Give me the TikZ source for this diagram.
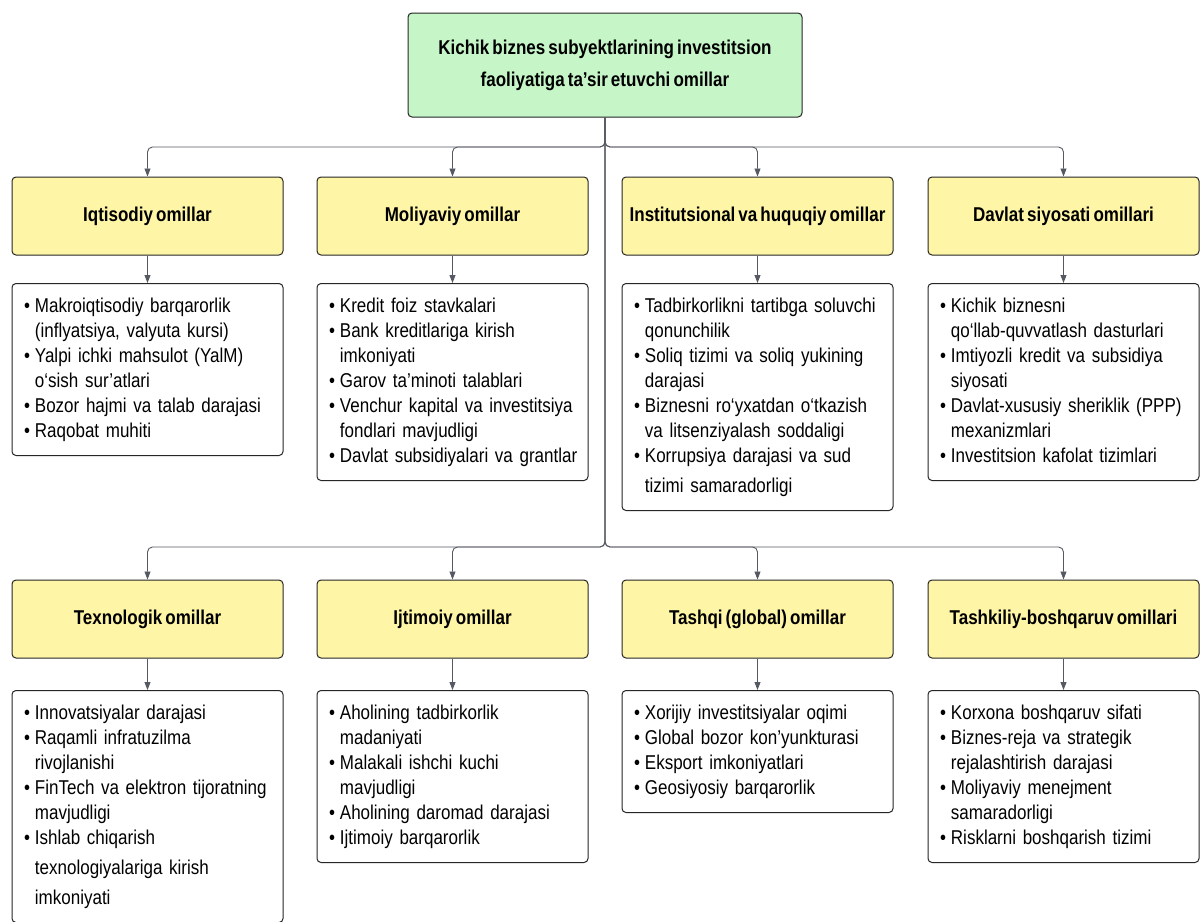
\documentclass[tikz,border=0pt]{standalone}
\usepackage{fontspec}
\setmainfont{Liberation Sans}[FakeStretch=0.85, WordSpace=0.65]
\usetikzlibrary{arrows.meta}
\definecolor{goalgreen}{RGB}{198,245,200}
\definecolor{factoryellow}{RGB}{254,245,166}
\definecolor{linkgray}{RGB}{85,90,98}
\tikzstyle{goal} = [draw=black!85, fill=goalgreen, rounded corners=4pt, line width=1pt, minimum width=394pt, minimum height=104pt, align=center, font=\bfseries\fontsize{20}{32}\selectfont]
\tikzstyle{factor} = [draw=black!85, fill=factoryellow, rounded corners=4pt, line width=1pt, minimum width=271pt, minimum height=78pt, text height=14pt, text depth=3pt, font=\bfseries\fontsize{20}{25}\selectfont]
\tikzstyle{items} = [draw=black!85, fill=white, rounded corners=4pt, line width=1pt, anchor=north, text width=247pt, inner xsep=12pt, inner ysep=11pt, align=left, font=\fontsize{20}{25}\selectfont]
\tikzstyle{flow} = [draw=linkgray, line width=0.9pt, rounded corners=5pt, -{Triangle[length=8pt,width=6pt]}]
\newcommand{\bul}{\textbullet}

\begin{document}
\begin{tikzpicture}[x=1pt,y=-1pt]
	\clip (0,0) rectangle (1202,921);
	\fill[white] (0,0) rectangle (1202,921);

	% main node and the two bus points
	\node [goal] (top) at (605,65) {Kichik biznes subyektlarining investitsion\\faoliyatiga ta’sir etuvchi omillar};
	\coordinate (bus1) at (605,147);
	\coordinate (bus2) at (605,547);

	% first row of factors
	\node [factor] (f1) at (147.5,216) {Iqtisodiy omillar};
	\node [factor] (f2) at (452.5,216) {Moliyaviy omillar};
	\node [factor] (f3) at (757.5,216) {Institutsional va huquqiy omillar};
	\node [factor] (f4) at (1063.5,216) {Davlat siyosati omillari};

	\node [items] (l1) at (147.5,283) {\begin{tabular}{@{}l@{\hspace{5pt}}l@{}}
		\bul & Makroiqtisodiy barqarorlik\\ & (inflyatsiya, valyuta kursi)\\
		\bul & Yalpi ichki mahsulot (YalM)\\ & o‘sish sur’atlari\\
		\bul & Bozor hajmi va talab darajasi\\
		\bul & Raqobat muhiti\end{tabular}};
	\node [items] (l2) at (452.5,283) {\begin{tabular}{@{}l@{\hspace{5pt}}l@{}}
		\bul & Kredit foiz stavkalari\\
		\bul & Bank kreditlariga kirish\\ & imkoniyati\\
		\bul & Garov ta’minoti talablari\\
		\bul & Venchur kapital va investitsiya\\ & fondlari mavjudligi\\
		\bul & Davlat subsidiyalari va grantlar\end{tabular}};
	\node [items] (l3) at (757.5,283) {\begin{tabular}{@{}l@{\hspace{5pt}}l@{}}
		\bul & Tadbirkorlikni tartibga soluvchi\\ & qonunchilik\\
		\bul & Soliq tizimi va soliq yukining\\ & darajasi\\
		\bul & Biznesni ro‘yxatdan o‘tkazish\\ & va litsenziyalash soddaligi\\
		\bul & Korrupsiya darajasi va sud\\[5pt] & tizimi samaradorligi\end{tabular}};
	\node [items] (l4) at (1063.5,283) {\begin{tabular}{@{}l@{\hspace{5pt}}l@{}}
		\bul & Kichik biznesni\\ & qo‘llab-quvvatlash dasturlari\\
		\bul & Imtiyozli kredit va subsidiya\\ & siyosati\\
		\bul & Davlat-xususiy sheriklik (PPP)\\ & mexanizmlari\\
		\bul & Investitsion kafolat tizimlari\end{tabular}};

	% second row of factors
	\node [factor] (f5) at (147.5,619) {Texnologik omillar};
	\node [factor] (f6) at (452.5,619) {Ijtimoiy omillar};
	\node [factor] (f7) at (757.5,619) {Tashqi (global) omillar};
	\node [factor] (f8) at (1063.5,619) {Tashkiliy-boshqaruv omillari};

	\node [items] (l5) at (147.5,690) {\begin{tabular}{@{}l@{\hspace{5pt}}l@{}}
		\bul & Innovatsiyalar darajasi\\
		\bul & Raqamli infratuzilma\\ & rivojlanishi\\
		\bul & FinTech va elektron tijoratning\\ & mavjudligi\\
		\bul & Ishlab chiqarish\\[5pt] & texnologiyalariga kirish\\[5pt] & imkoniyati\end{tabular}};
	\node [items] (l6) at (452.5,690) {\begin{tabular}{@{}l@{\hspace{5pt}}l@{}}
		\bul & Aholining tadbirkorlik\\ & madaniyati\\
		\bul & Malakali ishchi kuchi\\ & mavjudligi\\
		\bul & Aholining daromad darajasi\\
		\bul & Ijtimoiy barqarorlik\end{tabular}};
	\node [items] (l7) at (757.5,690) {\begin{tabular}{@{}l@{\hspace{5pt}}l@{}}
		\bul & Xorijiy investitsiyalar oqimi\\
		\bul & Global bozor kon’yunkturasi\\
		\bul & Eksport imkoniyatlari\\
		\bul & Geosiyosiy barqarorlik\end{tabular}};
	\node [items] (l8) at (1063.5,690) {\begin{tabular}{@{}l@{\hspace{5pt}}l@{}}
		\bul & Korxona boshqaruv sifati\\
		\bul & Biznes-reja va strategik\\ & rejalashtirish darajasi\\
		\bul & Moliyaviy menejment\\ & samaradorligi\\
		\bul & Risklarni boshqarish tizimi\end{tabular}};

	% branches from the main node
	\draw [flow] (top) -- (bus1) -| (f1);
	\draw [flow] (top) -- (bus1) -| (f2);
	\draw [flow] (top) -- (bus1) -| (f3);
	\draw [flow] (top) -- (bus1) -| (f4);
	\draw [flow] (top) -- (bus2) -| (f5);
	\draw [flow] (top) -- (bus2) -| (f6);
	\draw [flow] (top) -- (bus2) -| (f7);
	\draw [flow] (top) -- (bus2) -| (f8);

	% factor to its list
	\foreach \i in {1,...,8}
		\draw [flow] (f\i) -- (l\i);
\end{tikzpicture}
\end{document}
